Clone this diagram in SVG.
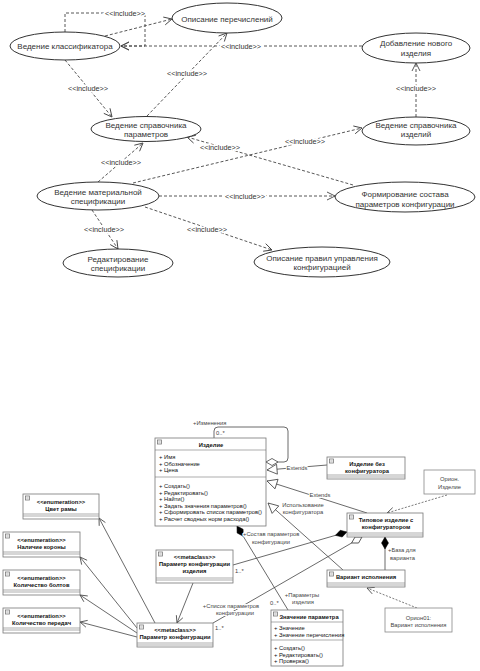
<svg xmlns="http://www.w3.org/2000/svg" width="480" height="671" viewBox="0 0 480 671">
<style>
text{font-family:"Liberation Sans",Arial,sans-serif;fill:#333}
.uc ellipse{fill:#fff;stroke:#333;stroke-width:1}
.uc text{font-size:8px;text-anchor:middle}
.dash{fill:none;stroke:#444;stroke-width:0.9;stroke-dasharray:3,2}
.inc{font-size:7.3px;text-anchor:middle;paint-order:stroke;stroke:#fff;stroke-width:3px}
.cls rect{fill:#fff;stroke:#777;stroke-width:0.8}
.cls line{stroke:#777;stroke-width:0.6}
.cls text{font-size:5.8px;fill:#111}
.b{font-weight:bold;text-anchor:middle}
.c{text-anchor:middle}
.ico{fill:#fff;stroke:#999;stroke-width:0.5}
.sol{fill:none;stroke:#444;stroke-width:0.8}
.lab{font-size:5.8px;fill:#444;paint-order:stroke;stroke:#fff;stroke-width:2px}
.note rect{fill:#fff;stroke:#888;stroke-width:0.8}
.note text{font-size:5.8px;fill:#444;text-anchor:middle}
</style>
<defs>
<marker id="open" markerUnits="userSpaceOnUse" orient="auto" refX="0" refY="0" overflow="visible"><path d="M-8,-4 L0,0 L-8,4" fill="none" stroke="#444" stroke-width="0.9"/></marker>
<marker id="open2" markerUnits="userSpaceOnUse" orient="auto" refX="0" refY="0" overflow="visible"><path d="M-7,-3.5 L0,0 L-7,3.5" fill="none" stroke="#444" stroke-width="0.8"/></marker>
<marker id="dfill" markerUnits="userSpaceOnUse" orient="auto" refX="0" refY="0" overflow="visible"><path d="M0,0 L6,-3.5 L12,0 L6,3.5 z" fill="#000" stroke="#000" stroke-width="0.5"/></marker>
<marker id="dhol" markerUnits="userSpaceOnUse" orient="auto" refX="0" refY="0" overflow="visible"><path d="M0,0 L6,-3.5 L12,0 L6,3.5 z" fill="#fff" stroke="#444" stroke-width="0.8"/></marker>
<marker id="tri" markerUnits="userSpaceOnUse" orient="auto" refX="0" refY="0" overflow="visible"><path d="M0,0 L10,-5 L10,5 z" fill="#fff" stroke="#444" stroke-width="0.8"/></marker>
</defs>

<g id="connectors">
<path class="dash" d="M65,32 V13 H145 V46 H121" marker-end="url(#open)"/>
<text class="inc" x="125" y="15.5">&lt;&lt;include&gt;&gt;</text>
<path class="dash" d="M105,36 L172,19" marker-end="url(#open)"/>
<path class="dash" d="M362,46 H121" marker-end="url(#open)"/>
<text class="inc" x="241" y="48.5">&lt;&lt;include&gt;&gt;</text>
<path class="dash" d="M65,60 L112,117" marker-end="url(#open)"/>
<text class="inc" x="88" y="90.5">&lt;&lt;include&gt;&gt;</text>
<path class="dash" d="M147,116 L227,33" marker-end="url(#open)"/>
<text class="inc" x="187" y="75.5">&lt;&lt;include&gt;&gt;</text>
<path class="dash" d="M416,117 V63" marker-end="url(#open)"/>
<text class="inc" x="416" y="90.5">&lt;&lt;include&gt;&gt;</text>
<path class="dash" d="M133,183 L362,128" marker-end="url(#open)"/>
<text class="inc" x="305" y="143.5">&lt;&lt;include&gt;&gt;</text>
<path class="dash" d="M353,185 L187,137" marker-end="url(#open)"/>
<text class="inc" x="220" y="149.5">&lt;&lt;include&gt;&gt;</text>
<path class="dash" d="M98,182 L143,143" marker-end="url(#open)"/>
<text class="inc" x="121" y="164.5">&lt;&lt;include&gt;&gt;</text>
<path class="dash" d="M159,196 H335" marker-end="url(#open)"/>
<text class="inc" x="245" y="198.5">&lt;&lt;include&gt;&gt;</text>
<path class="dash" d="M92,210 L118,249" marker-end="url(#open)"/>
<text class="inc" x="104" y="231.5">&lt;&lt;include&gt;&gt;</text>
<path class="dash" d="M145,207 L272,250" marker-end="url(#open)"/>
<text class="inc" x="207" y="231.5">&lt;&lt;include&gt;&gt;</text>

<!-- class diagram connectors -->
<path class="sol" d="M266,462 H284 Q288,462 288,458 V431 Q288,427 284,427 H218 Q214,427 214,431 V438" marker-start="url(#dhol)"/>
<text class="lab" x="193" y="425">+Изменения</text>
<text class="lab" x="216" y="435">0..*</text>
<path class="sol" d="M267,470 L327,465" marker-start="url(#tri)"/>
<text class="lab" x="297" y="470" text-anchor="middle">Extends</text>
<path class="sol" d="M267,481 L367,513" marker-start="url(#tri)"/>
<text class="lab" x="320" y="497" text-anchor="middle">Extends</text>
<path class="sol" d="M268,503 L343,570" marker-start="url(#tri)"/>
<text class="lab" x="303" y="507" text-anchor="middle">Использование</text>
<text class="lab" x="303" y="514" text-anchor="middle">конфигуратора</text>
<path class="sol" d="M237,526 L288,610" marker-start="url(#dfill)"/>
<text class="lab" x="243" y="536">+Состав параметров</text>
<text class="lab" x="271" y="544" text-anchor="middle">конфигурации</text>
<text class="lab" x="302" y="597" text-anchor="middle">+Параметры</text>
<text class="lab" x="303" y="604" text-anchor="middle">изделия</text>
<text class="lab" x="270" y="605">0..*</text>
<path class="sol" d="M347,532 L233,565" marker-start="url(#dfill)"/>
<text class="lab" x="235" y="573">1..*</text>
<path class="sol" d="M362,537 L213,623" marker-start="url(#dhol)"/>
<text class="lab" x="231" y="608" text-anchor="middle">+Список параметров</text>
<text class="lab" x="235" y="615" text-anchor="middle">конфигурации</text>
<text class="lab" x="215" y="630">1..*</text>
<path class="sol" d="M385,537 V570" marker-start="url(#dfill)"/>
<text class="lab" x="388" y="552">+База для</text>
<text class="lab" x="390" y="560">варианта</text>
<path class="dash" d="M447,495 L387,513" marker-end="url(#open2)" style="stroke-dasharray:2,1.5;stroke-width:0.7"/>
<path class="dash" d="M417,608 L367,588" marker-end="url(#open2)" style="stroke-dasharray:2,1.5;stroke-width:0.7"/>
<path class="sol" d="M193,583 L177,623" marker-end="url(#open2)"/>
<path class="sol" d="M155,623 L99,518" marker-end="url(#open2)"/>
<path class="sol" d="M137,628 L80,557" marker-end="url(#open2)"/>
<path class="sol" d="M137,633 L80,595" marker-end="url(#open2)"/>
<path class="sol" d="M137,637 L80,622" marker-end="url(#open2)"/>
</g>

<g id="uc-vedenie-klassifikatora" class="uc"><ellipse cx="65" cy="46" rx="55" ry="14"/><text x="65" y="49">Ведение классификатора</text></g>
<g id="uc-opisanie-perechisleniy" class="uc"><ellipse cx="227" cy="18" rx="55" ry="15"/><text x="227" y="21.5">Описание перечислений</text></g>
<g id="uc-dobavlenie" class="uc"><ellipse cx="416" cy="48" rx="54" ry="15"/><text x="416" y="46">Добавление нового</text><text x="416" y="56">изделия</text></g>
<g id="uc-spravochnik-izdeliy" class="uc"><ellipse cx="416" cy="131" rx="54" ry="14"/><text x="416" y="127.5">Ведение справочника</text><text x="416" y="137">изделий</text></g>
<g id="uc-spravochnik-parametrov" class="uc"><ellipse cx="146" cy="129" rx="55" ry="12.5"/><text x="146" y="127.5">Ведение справочника</text><text x="146" y="137">параметров</text></g>
<g id="uc-materialnaya" class="uc"><ellipse cx="98" cy="196" rx="61" ry="14"/><text x="98" y="194.5">Ведение материальной</text><text x="98" y="204">спецификации</text></g>
<g id="uc-formirovanie" class="uc"><ellipse cx="405" cy="197" rx="70" ry="15"/><text x="405" y="196.5">Формирование состава</text><text x="405" y="206.5">параметров конфигурации</text></g>
<g id="uc-redaktirovanie" class="uc"><ellipse cx="118" cy="263" rx="55" ry="14"/><text x="118" y="261.5">Редактирование</text><text x="118" y="271">спецификации</text></g>
<g id="uc-opisanie-pravil" class="uc"><ellipse cx="322" cy="262" rx="68" ry="15"/><text x="322" y="260.5">Описание правил управления</text><text x="322" y="270">конфигурацией</text></g>

<g id="cls-izdelie" class="cls">
<rect x="155" y="438" width="111" height="88"/>
<rect class="ico" x="157.5" y="440" width="4" height="4"/><line x1="158.3" y1="442" x2="160.7" y2="442"/>
<text class="b" x="211" y="446.5">Изделие</text>
<line x1="155" y1="450" x2="266" y2="450"/>
<text x="159" y="459">+ Имя</text>
<text x="159" y="465.5">+ Обозначение</text>
<text x="159" y="472">+ Цена</text>
<line x1="155" y1="477" x2="266" y2="477"/>
<text x="159" y="488">+ Создать()</text>
<text x="159" y="494.5">+ Редактировать()</text>
<text x="159" y="501">+ Найти()</text>
<text x="159" y="507.5">+ Задать значения параметров()</text>
<text x="159" y="514">+ Сформировать список параметров()</text>
<text x="159" y="520.5">+ Расчет сводных норм расхода()</text>
</g>

<g id="cls-bez-konfiguratora" class="cls">
<rect x="327" y="457" width="78" height="22"/>
<rect class="ico" x="329.5" y="459" width="4" height="4"/><line x1="330.3" y1="461" x2="332.7" y2="461"/>
<text class="b" x="367" y="466">Изделие без</text>
<text class="b" x="367" y="472.5">конфигуратора</text>
<line x1="327" y1="475" x2="405" y2="475"/><line x1="327" y1="477" x2="405" y2="477"/>
</g>

<g id="note-orion-izdelie" class="note">
<rect x="424" y="470" width="51" height="24"/>
<text x="449.5" y="481">Орион.</text>
<text x="449.5" y="488.5">Изделие</text>
</g>

<g id="cls-tipovoe" class="cls">
<rect x="347" y="513" width="76" height="24"/>
<rect class="ico" x="349.5" y="515" width="4" height="4"/><line x1="350.3" y1="517" x2="352.7" y2="517"/>
<text class="b" x="386" y="522">Типовое изделие с</text>
<text class="b" x="386" y="529">конфигуратором</text>
<line x1="347" y1="533" x2="423" y2="533"/><line x1="347" y1="535" x2="423" y2="535"/>
</g>

<g id="cls-variant" class="cls">
<rect x="327" y="570" width="78" height="17"/>
<rect class="ico" x="329.5" y="572" width="4" height="4"/><line x1="330.3" y1="574" x2="332.7" y2="574"/>
<text class="b" x="366" y="579">Вариант исполнения</text>
<line x1="327" y1="583" x2="405" y2="583"/><line x1="327" y1="585" x2="405" y2="585"/>
</g>

<g id="note-orion01" class="note">
<rect x="385" y="608" width="67" height="24"/>
<text x="418.5" y="619.5">Орион01:</text>
<text x="418.5" y="627">Вариант исполнения</text>
</g>

<g id="cls-znachenie" class="cls">
<rect x="271" y="610" width="72" height="56"/>
<rect class="ico" x="273.5" y="612" width="4" height="4"/><line x1="274.3" y1="614" x2="276.7" y2="614"/>
<text class="b" x="309" y="618.5">Значение параметра</text>
<line x1="271" y1="622" x2="343" y2="622"/>
<text x="274" y="630">+ Значение</text>
<text x="274" y="636.5">+ Значение перечисления</text>
<line x1="271" y1="640" x2="343" y2="640"/>
<text x="274" y="650">+ Создать()</text>
<text x="274" y="656.5">+ Редактировать()</text>
<text x="274" y="663">+ Проверка()</text>
</g>

<g id="cls-param-izdeliya" class="cls">
<rect x="156" y="550" width="77" height="33"/>
<rect class="ico" x="158.5" y="552" width="4" height="4"/><line x1="159.3" y1="554" x2="161.7" y2="554"/>
<text class="b" x="194.5" y="559">&lt;&lt;metaclass&gt;&gt;</text>
<text class="b" x="194.5" y="566">Параметр конфигурации</text>
<text class="b" x="194.5" y="573">изделия</text>
<line x1="156" y1="578" x2="233" y2="578"/><line x1="156" y1="580" x2="233" y2="580"/>
</g>

<g id="cls-param" class="cls">
<rect x="137" y="623" width="76" height="24"/>
<rect class="ico" x="139.5" y="625" width="4" height="4"/><line x1="140.3" y1="627" x2="142.7" y2="627"/>
<text class="b" x="175" y="632">&lt;&lt;metaclass&gt;&gt;</text>
<text class="b" x="175" y="639">Параметр конфигурации</text>
<line x1="137" y1="643" x2="213" y2="643"/><line x1="137" y1="645" x2="213" y2="645"/>
</g>

<g id="enum-cvet" class="cls">
<rect x="23" y="494" width="76" height="25"/>
<rect class="ico" x="25.5" y="496" width="4" height="4"/><line x1="26.3" y1="498" x2="28.7" y2="498"/>
<text class="b" x="61" y="504">&lt;&lt;enumeration&gt;&gt;</text>
<text class="b" x="61" y="510.5">Цвет рамы</text>
<line x1="23" y1="514" x2="99" y2="514"/><line x1="23" y1="516" x2="99" y2="516"/>
</g>

<g id="enum-korona" class="cls">
<rect x="3" y="532" width="77" height="25"/>
<rect class="ico" x="5.5" y="534" width="4" height="4"/><line x1="6.3" y1="536" x2="8.7" y2="536"/>
<text class="b" x="41.5" y="542">&lt;&lt;enumeration&gt;&gt;</text>
<text class="b" x="41.5" y="548.5">Наличие короны</text>
<line x1="3" y1="552" x2="80" y2="552"/><line x1="3" y1="554" x2="80" y2="554"/>
</g>

<g id="enum-bolty" class="cls">
<rect x="3" y="570" width="77" height="25"/>
<rect class="ico" x="5.5" y="572" width="4" height="4"/><line x1="6.3" y1="574" x2="8.7" y2="574"/>
<text class="b" x="41.5" y="580">&lt;&lt;enumeration&gt;&gt;</text>
<text class="b" x="41.5" y="586.5">Количество болтов</text>
<line x1="3" y1="590" x2="80" y2="590"/><line x1="3" y1="592" x2="80" y2="592"/>
</g>

<g id="enum-peredachi" class="cls">
<rect x="3" y="608" width="77" height="25"/>
<rect class="ico" x="5.5" y="610" width="4" height="4"/><line x1="6.3" y1="612" x2="8.7" y2="612"/>
<text class="b" x="41.5" y="618">&lt;&lt;enumeration&gt;&gt;</text>
<text class="b" x="41.5" y="624.5">Количество передач</text>
<line x1="3" y1="628" x2="80" y2="628"/><line x1="3" y1="630" x2="80" y2="630"/>
</g>
</svg>
